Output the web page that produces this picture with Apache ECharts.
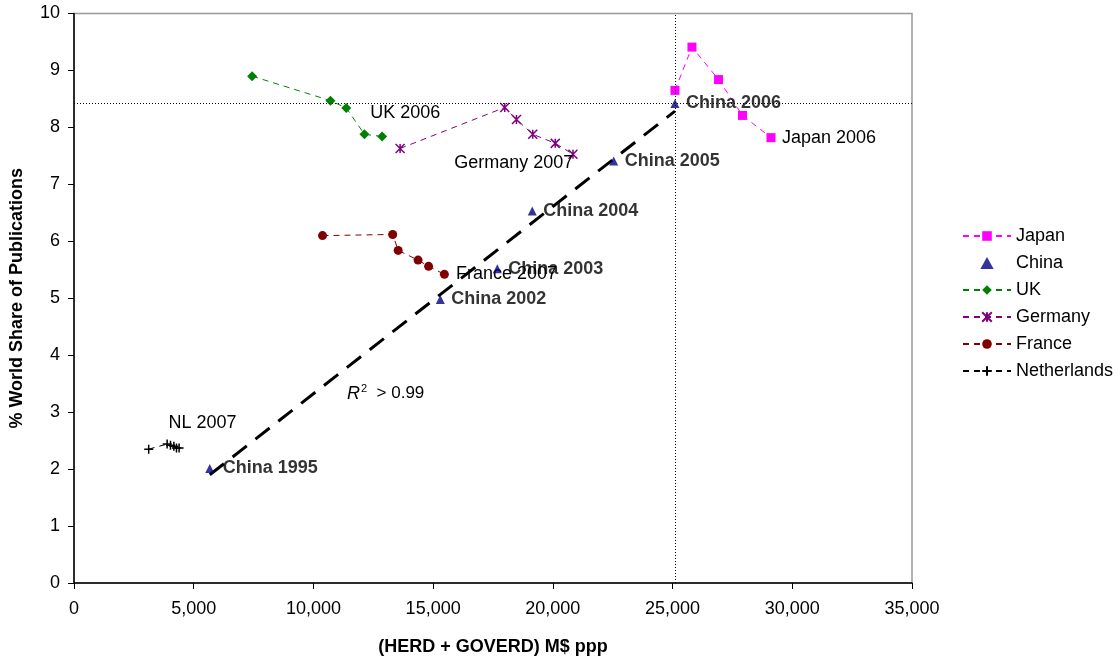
<!DOCTYPE html>
<html>
<head>
<meta charset="utf-8">
<script src="https://cdn.jsdelivr.net/npm/echarts@6/dist/echarts.min.js"></script>
<style>
html,body{margin:0;padding:0;background:#fff;}
#chart{width:1120px;height:661px;}
</style>
</head>
<body>
<div id="chart"></div>
<script>
// ---- data (x: M$ ppp, y: % world share) ----
const japanX = [25100, 25810, 26920, 27920, 29110];
const japanY = [8.65, 9.41, 8.84, 8.21, 7.82];
const chinaX = [5670, 15300, 17680, 19140, 22540, 25100];
const chinaY = [2.01, 4.98, 5.52, 6.53, 7.41, 8.42];
const chinaYears = ['1995', '2002', '2003', '2004', '2005', '2006'];
const ukX = [7440, 10710, 11370, 12130, 12870];
const ukY = [8.90, 8.47, 8.34, 7.88, 7.84];
const germanyX = [13620, 17990, 18480, 19160, 20100, 20840];
const germanyY = [7.63, 8.35, 8.14, 7.88, 7.72, 7.53];
const franceX = [10380, 13310, 13540, 14370, 14810, 15470];
const franceY = [6.10, 6.12, 5.84, 5.67, 5.56, 5.42];
const nlX = [3120, 3890, 4030, 4170, 4280, 4390];
const nlY = [2.35, 2.44, 2.42, 2.40, 2.37, 2.37];
const seriesNames = ['Japan', 'China', 'UK', 'Germany', 'France', 'Netherlands'];
const xTicks = [0, 5000, 10000, 15000, 20000, 25000, 30000, 35000];
const yTicks = [0, 1, 2, 3, 4, 5, 6, 7, 8, 9, 10];

const FONT = 'Liberation Sans, Arial, sans-serif';
const FS = 18;

function pairs(xs, ys) { return xs.map((x, i) => [x, ys[i]]); }
function lab(text, dx, dy, size, align, bold) {
  return {
    show: true, formatter: text,
    position: [dx + size / 2, dy + size / 2],
    align: align || 'left', verticalAlign: 'middle',
    color: '#000', fontSize: FS, fontFamily: FONT,
    fontWeight: bold ? 'bold' : 'normal', textBorderWidth: 0
  };
}
function withLabel(data, idx, label) {
  return data.map((d, i) => i === idx ? { value: d, label: label } : d);
}

// least-squares trend line for China
const n = chinaX.length;
const mx = chinaX.reduce((a, b) => a + b, 0) / n;
const my = chinaY.reduce((a, b) => a + b, 0) / n;
let sxy = 0, sxx = 0;
for (let i = 0; i < n; i++) { sxy += (chinaX[i] - mx) * (chinaY[i] - my); sxx += (chinaX[i] - mx) ** 2; }
const slope = sxy / sxx, icpt = my - slope * mx;
const xMin = Math.min(...chinaX), xMax = Math.max(...chinaX);
const trend = [[xMin, icpt + slope * xMin], [xMax, icpt + slope * xMax]];

const SZ = 9;
const plusPath = 'path://M0,5L10,5M5,0L5,10';
const starPath = 'path://M0,0L10,10M10,0L0,10M5,0L5,10';
const triPath = 'path://M5,0L10,9L0,9Z';

let chinaData = pairs(chinaX, chinaY).map((d, i) => ({
  value: d,
  label: lab('China ' + chinaYears[i], i === 0 ? 13 : 11, 0, SZ, 'left', true)
}));

const legendData = seriesNames.map(nm => nm === 'China' ? { name: nm, icon: triPath, itemStyle: { color: '#000080' } } : { name: nm });

const chart = echarts.init(document.getElementById('chart'));
chart.setOption({
  animation: false,
  textStyle: { fontFamily: FONT },
  grid: { left: 73.5, right: 208, top: 13.5, bottom: 73, show: true, borderColor: '#999', borderWidth: 1.5 },
  xAxis: {
    type: 'value', min: xTicks[0], max: xTicks[xTicks.length - 1], interval: 5000,
    name: '(HERD + GOVERD) M$ ppp', nameLocation: 'middle', nameGap: 55,
    nameTextStyle: { fontSize: FS, fontWeight: 'bold', color: '#000', fontFamily: FONT },
    axisLine: { lineStyle: { color: '#000', width: 1.5 } },
    axisTick: { lineStyle: { color: '#000' }, length: 6 },
    axisLabel: { fontSize: FS, color: '#000', margin: 17, fontFamily: FONT,
      formatter: v => v.toLocaleString('en-US') },
    splitLine: { show: false }
  },
  yAxis: {
    type: 'value', min: yTicks[0], max: yTicks[yTicks.length - 1], interval: 1,
    name: '% World Share of Publications', nameLocation: 'middle', nameGap: 48,
    nameTextStyle: { fontSize: FS, fontWeight: 'bold', color: '#000', fontFamily: FONT },
    axisLine: { lineStyle: { color: '#000', width: 1.5 } },
    axisTick: { lineStyle: { color: '#000' }, length: 6 },
    axisLabel: { fontSize: FS, color: '#000', margin: 14, fontFamily: FONT },
    splitLine: { show: false }
  },
  legend: {
    orient: 'vertical', left: 962, top: 227, padding: 0,
    itemWidth: 48, itemHeight: 12, itemGap: 9,
    data: legendData,
    textStyle: { fontSize: FS, color: '#000', fontFamily: FONT }
  },
  graphic: [{
    type: 'text', left: 347, top: 383,
    style: {
      text: '{i|R}{s|2}{n|  > 0.99}',
      rich: {
        i: { fontSize: 18, fontStyle: 'italic', fill: '#000', fontFamily: FONT },
        s: { fontSize: 11, fill: '#000', fontFamily: FONT, verticalAlign: 'top', padding: [0, 0, 10, 1] },
        n: { fontSize: 17, fill: '#000', fontFamily: FONT }
      }
    }
  }],
  series: [
    {
      name: 'trend', type: 'line', data: trend, symbol: 'none', silent: true, z: 1,
      lineStyle: { color: '#000', width: 3, type: [18, 11] }
    },
    {
      name: 'Japan', type: 'line', symbol: 'rect', symbolSize: SZ,
      data: withLabel(pairs(japanX, japanY), 4, lab('Japan 2006', 11, 0, SZ)),
      itemStyle: { color: '#FF00FF' },
      lineStyle: { color: '#FF00FF', width: 1, type: [6, 5] }
    },
    {
      name: 'China', type: 'scatter', symbol: 'triangle', symbolSize: SZ, z: 5,
      data: chinaData,
      itemStyle: { color: '#000080' },
      markLine: {
        silent: true, symbol: 'none', label: { show: false },
        lineStyle: { color: '#000', width: 1, type: [1, 2] },
        data: [{ xAxis: chinaX[chinaX.length - 1] }, { yAxis: chinaY[chinaY.length - 1] }]
      }
    },
    {
      name: 'UK', type: 'line', symbol: 'diamond', symbolSize: SZ + 1,
      data: withLabel(pairs(ukX, ukY), 2, lab('UK 2006', 24, 5, SZ + 1)),
      itemStyle: { color: '#008000' },
      lineStyle: { color: '#008000', width: 1, type: [6, 5] }
    },
    {
      name: 'Germany', type: 'line', symbol: starPath, symbolSize: SZ,
      data: withLabel(pairs(germanyX, germanyY), 5, lab('Germany 2007', 1, 10, SZ, 'right')),
      itemStyle: { color: 'rgba(0,0,0,0)', borderColor: '#800080', borderWidth: 1.5 },
      lineStyle: { color: '#800080', width: 1, type: [6, 5] }
    },
    {
      name: 'France', type: 'line', symbol: 'circle', symbolSize: SZ,
      data: withLabel(pairs(franceX, franceY), 5, lab('France 2007', 11.5, 0, SZ)),
      itemStyle: { color: '#800000' },
      lineStyle: { color: '#800000', width: 1, type: [6, 5] }
    },
    {
      name: 'Netherlands', type: 'line', symbol: plusPath, symbolSize: SZ,
      data: withLabel(pairs(nlX, nlY), 0, lab('NL 2007', 20.5, -25, SZ)),
      itemStyle: { color: 'rgba(0,0,0,0)', borderColor: '#000', borderWidth: 1.5 },
      lineStyle: { color: '#000', width: 1, type: [6, 5] }
    }
  ]
});
</script>
</body>
</html>
